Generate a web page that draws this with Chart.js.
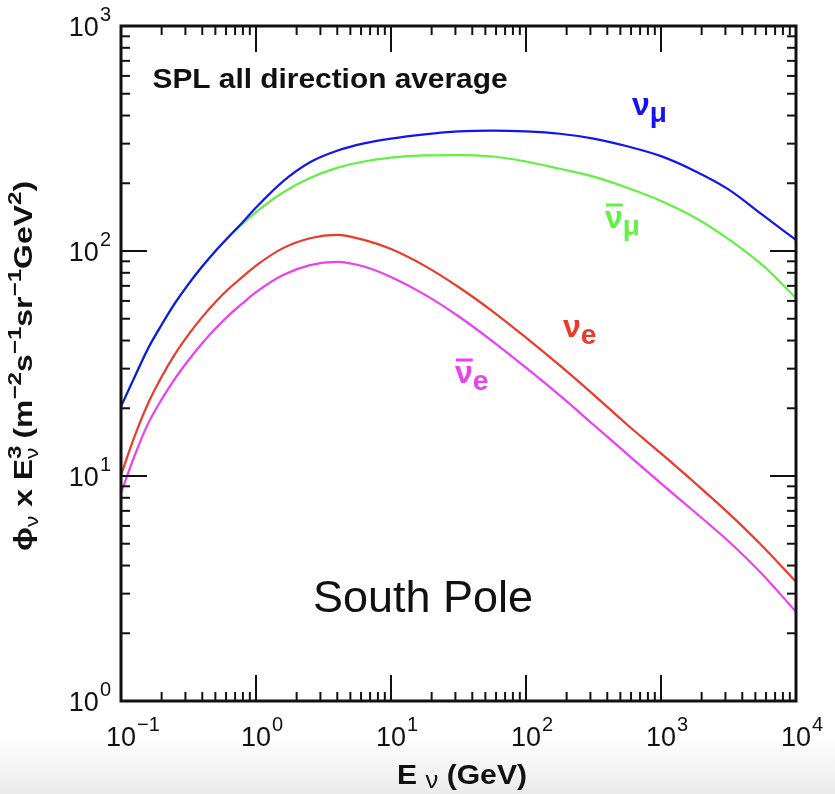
<!DOCTYPE html>
<html>
<head>
<meta charset="utf-8">
<script src="https://cdn.jsdelivr.net/npm/chart.js@4.4.1/dist/chart.umd.min.js"></script>
<style>
  html, body { margin: 0; padding: 0; }
  body {
    width: 835px; height: 794px; overflow: hidden;
    background: linear-gradient(to bottom, #fff 0px, #fff 735px, #ebebeb 794px);
  }
</style>
</head>
<body>
<canvas id="flux-chart" width="835" height="794"></canvas>
<script>
// neutrino energy (GeV)
const energies = [0.1, 0.126, 0.158, 0.2, 0.251, 0.316, 0.398, 0.501, 0.631, 0.794,
  1, 1.585, 2.512, 3.981, 6.31, 10, 17.78, 31.62, 56.23, 100,
  177.8, 316.2, 562.3, 1000, 1778, 3162, 5623, 10000];

// phi x E^3  (m^-2 s^-1 sr^-1 GeV^2)
const numu    = [20.4, 27.5, 36.7, 47.0, 58.6, 71.3, 85.1, 100, 116, 134,
  156, 204, 248, 279, 301, 316, 330, 340, 343, 340,
  332, 316, 292, 264, 227, 188, 145, 112];
const numubar = [20.4, 27.5, 36.7, 47.0, 58.6, 71.3, 85.1, 100, 116, 132,
  149, 182, 211, 234, 250, 260, 266, 267, 263, 250,
  232, 214, 191, 167, 141, 113, 86.7, 61.7];
const nue     = [10.1, 15.0, 20.9, 27.6, 34.8, 42.5, 50.7, 59.3, 68.1, 76.7,
  86.1, 103, 114, 118, 112, 102, 85.9, 69.2, 54.1, 41.2,
  31.0, 23.0, 16.9, 12.6, 9.33, 6.84, 4.89, 3.39];
const nuebar  = [8.39, 12.3, 17.0, 21.9, 27.1, 32.7, 38.8, 45.2, 51.9, 58.5,
  65.6, 78.2, 86.5, 89.5, 85.3, 76.6, 64.0, 51.3, 39.8, 30.3,
  22.8, 16.9, 12.5, 9.27, 6.92, 5.13, 3.66, 2.49];

const xDecades = [-1, 0, 1, 2, 3, 4];
const yDecades = [0, 1, 2, 3];
const minorSteps = [2, 3, 4, 5, 6, 7, 8, 9];
const xTickLabels = ['\u22121', '0', '1', '2', '3', '4'];
const yTickLabels = ['0', '1', '2', '3'];

const FAM = "'Liberation Sans', Arial, Helvetica, 'DejaVu Sans', sans-serif";
const BLUE = '#1414f0', GREEN = '#62f044', RED = '#ea3a2a', MAGENTA = '#ea40f0';

const toPoints = (vals) => energies.map((e, i) => ({x: e, y: vals[i]}));

const line = (label, vals, color) => ({
  label: label,
  data: toPoints(vals),
  borderColor: color,
  backgroundColor: color,
  borderWidth: 2.2,
  pointRadius: 0,
  cubicInterpolationMode: 'monotone',
  fill: false,
});

function drawPower(ctx, exp, x, y, align) {
  const baseFont = '27px ' + FAM, supFont = '20px ' + FAM;
  ctx.font = baseFont;
  const w10 = ctx.measureText('10').width;
  ctx.font = supFont;
  const ws = ctx.measureText(exp).width;
  const x0 = align === 'center' ? x - w10 / 2 : x - w10 - ws - 1;
  ctx.textAlign = 'left';
  ctx.textBaseline = 'alphabetic';
  ctx.font = baseFont;
  ctx.fillText('10', x0, y);
  ctx.font = supFont;
  ctx.fillText(exp, x0 + w10 + 1, y - 15);
}

// pieces are [text, font, dy, noAdvance]
function runWidth(ctx, pieces) {
  let w = 0;
  pieces.forEach(p => { ctx.font = p[1]; if (!p[3]) w += ctx.measureText(p[0]).width; });
  return w;
}
// draws a run centred on (cx, y), stretched horizontally to span `span` px
function drawRunFit(ctx, pieces, cx, y, span) {
  const w = runWidth(ctx, pieces);
  ctx.save();
  ctx.translate(cx, y);
  ctx.scale(span / w, 1);
  let px = -w / 2;
  pieces.forEach(p => {
    ctx.font = p[1];
    ctx.fillText(p[0], px, p[2] || 0);
    if (!p[3]) px += ctx.measureText(p[0]).width;
  });
  ctx.restore();
}

const frameAndText = {
  id: 'frameAndText',
  afterDraw(chart) {
    const {ctx, chartArea: a, scales: {x, y}} = chart;
    ctx.save();
    ctx.strokeStyle = '#111';
    ctx.fillStyle = '#111';
    const seg = (x1, y1, x2, y2) => { ctx.beginPath(); ctx.moveTo(x1, y1); ctx.lineTo(x2, y2); ctx.stroke(); };

    // inward ticks + labels
    ctx.lineWidth = 2;
    xDecades.forEach((d, i) => {
      const v = Math.pow(10, d);
      const px = x.getPixelForValue(v);
      seg(px, a.bottom, px, a.bottom - 26);
      seg(px, a.top, px, a.top + 26);
      if (i < xDecades.length - 1) {
        minorSteps.forEach(m => {
          const p = x.getPixelForValue(m * v);
          seg(p, a.bottom, p, a.bottom - 9);
          seg(p, a.top, p, a.top + 9);
        });
      }
      drawPower(ctx, xTickLabels[i], px, 746, 'center');
    });
    yDecades.forEach((d, i) => {
      const v = Math.pow(10, d);
      const py = y.getPixelForValue(v);
      seg(a.left, py, a.left + 26, py);
      seg(a.right, py, a.right - 26, py);
      if (i < yDecades.length - 1) {
        minorSteps.forEach(m => {
          const p = y.getPixelForValue(m * v);
          seg(a.left, p, a.left + 9, p);
          seg(a.right, p, a.right - 9, p);
        });
      }
      drawPower(ctx, yTickLabels[i], 111, py + 10, 'right');
    });

    // frame
    ctx.lineWidth = 3;
    ctx.strokeRect(a.left, a.top, a.right - a.left, a.bottom - a.top);

    // x axis title
    ctx.textAlign = 'left';
    const bold = 'bold 27px ' + FAM;
    drawRunFit(ctx, [['E', bold], [' ', bold], ['\u03bd', '23px ' + FAM, 4], [' (GeV)', bold]], 462, 784, 130);

    // y axis title, rotated
    const yb = 'bold 25px ' + FAM, ys = 'bold 19px ' + FAM, yn = '18px ' + FAM;
    const yt = [['\u03d5', yb], ['\u03bd', yn, 6], [' x E', yb], ['3', ys, -11, true], ['\u03bd', yn, 6],
      [' (m', yb], ['\u22122', ys, -11], ['s', yb], ['\u22121', ys, -11], ['sr', yb], ['\u22121', ys, -11],
      ['GeV', yb], ['2', ys, -11], [')', yb]];
    ctx.save();
    ctx.translate(32, 366);
    ctx.rotate(-Math.PI / 2);
    drawRunFit(ctx, yt, 0, 0, 370);
    ctx.restore();

    // panel texts
    drawRunFit(ctx, [['SPL all direction average', 'bold 28px ' + FAM]], 330, 88, 355);
    drawRunFit(ctx, [['South Pole', '44px ' + FAM]], 423, 612, 220);

    // curve labels
    const nuFont = 'bold 32px ' + FAM, subFont = 'bold 28px ' + FAM;
    const curveLabel = (color, sub, lx, ly, bar) => {
      ctx.fillStyle = color;
      ctx.strokeStyle = color;
      ctx.font = nuFont;
      ctx.fillText('\u03bd', lx, ly);
      const w = ctx.measureText('\u03bd').width;
      ctx.font = subFont;
      ctx.fillText(sub, lx + w, ly + 7);
      if (bar) { ctx.lineWidth = 3; seg(lx + 1, ly - 23, lx + w, ly - 23); }
    };
    curveLabel(BLUE, '\u03bc', 632, 115, false);
    curveLabel(GREEN, '\u03bc', 605, 228, true);
    curveLabel(RED, 'e', 563, 337, false);
    curveLabel(MAGENTA, 'e', 455, 383, true);
    ctx.restore();
  }
};

new Chart(document.getElementById('flux-chart'), {
  type: 'line',
  data: {
    datasets: [
      line('numu', numu, BLUE),
      line('numubar', numubar, GREEN),
      line('nue', nue, RED),
      line('nuebar', nuebar, MAGENTA),
    ],
  },
  options: {
    responsive: false,
    animation: false,
    layout: { padding: { left: 121, top: 26, right: 39, bottom: 93 } },
    plugins: { legend: { display: false }, tooltip: { enabled: false } },
    scales: {
      x: { type: 'logarithmic', min: 0.1, max: 10000, display: false },
      y: { type: 'logarithmic', min: 1, max: 1000, display: false },
    },
  },
  plugins: [frameAndText],
});
</script>
</body>
</html>
